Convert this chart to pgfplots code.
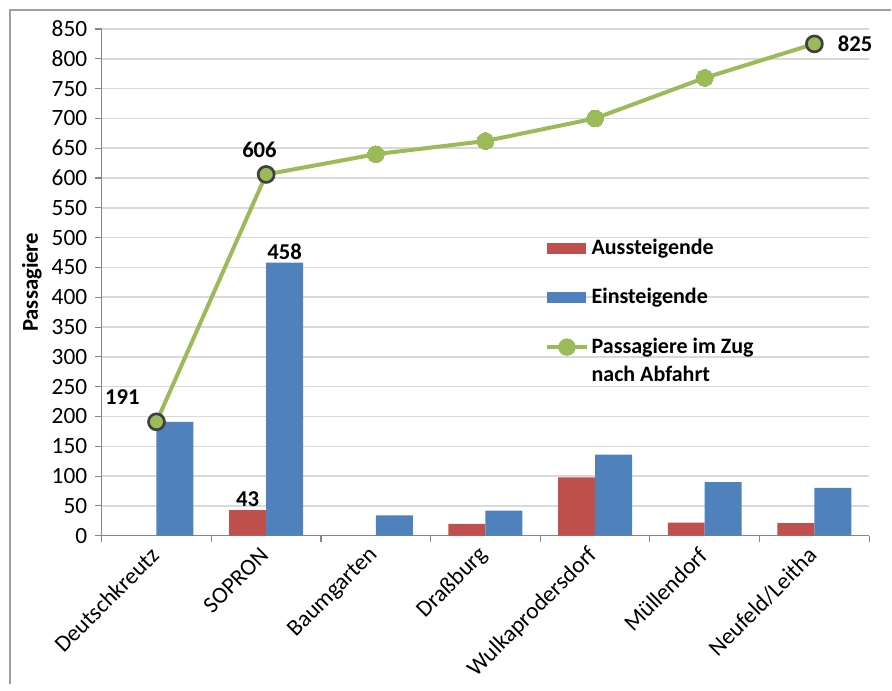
\documentclass[border=0pt]{standalone}
\usepackage{pgfplots}
\pgfplotsset{compat=1.18}
\usepackage{fontspec}
\setmainfont{Carlito}
\definecolor{cRed}{HTML}{C0504D}
\definecolor{cBlue}{HTML}{4F81BD}
\definecolor{cGreen}{HTML}{9BBB59}
\definecolor{cGrid}{HTML}{D9D9D9}
\definecolor{cAxis}{HTML}{868686}
\definecolor{cDark}{HTML}{404040}
\begin{document}
\begin{tikzpicture}
\fontsize{17}{20}\selectfont
\path (0,0) rectangle (669pt,513pt);
\draw[cAxis!80,line width=0.8pt] (7.5pt,0) -- (7.5pt,505.5pt) -- (669pt,505.5pt);
\begin{axis}[
  at={(76.3pt,111pt)}, anchor=south west,
  scale only axis, width=576pt, height=380.25pt,
  xmin=-0.5, xmax=6.5, ymin=0, ymax=850,
  ytick={0,50,...,850},
  xtick={0,...,6},
  xticklabels={Deutschkreutz,SOPRON,Baumgarten,Draßburg,Wulkaprodersdorf,Müllendorf,Neufeld/Leitha},
  minor xtick={-0.5,0.5,...,6.5},
  major x tick style={draw=none},
  minor x tick style={cAxis, line width=0.8pt},
  y tick style={cAxis, line width=0.8pt},
  tick align=outside, major tick length=5pt, minor tick length=5pt,
  axis x line*=bottom, axis y line*=left,
  axis line style={cAxis, line width=0.8pt, -},
  ymajorgrids, grid style={cGrid, line width=1.1pt},
  /pgf/number format/assume math mode=true,
  ticklabel style={font=\fontsize{17.5}{20}\selectfont},
  xticklabel style={rotate=45, anchor=east, yshift=-4pt},
  ylabel={\bfseries Passagiere},
  ylabel style={font=\fontsize{17}{20}\selectfont, yshift=-4pt},
  legend style={at={(0.572,0.597)}, anchor=north west, draw=none, fill=none,
    row sep=19pt, font=\fontsize{16.5}{21}\selectfont\bfseries,
    cells={anchor=west, align=left}},
  clip=false,
]
\addplot[ybar, bar width=27.75pt, bar shift=-13.875pt, fill=cRed, draw=none,
  legend image code/.code={\fill[cRed] (0pt,-4pt) rectangle (29pt,4pt);},
  point meta=explicit symbolic,
  nodes near coords, every node near coord/.append style={font=\fontsize{17}{20}\selectfont\bfseries, black, anchor=south, inner sep=2pt, xshift=-13.875pt}]
  coordinates {(1,43) [43] (3,20) [] (4,98) [] (5,22) [] (6,21) []};
\addlegendentry{Aussteigende}
\addplot[ybar, bar width=27.75pt, bar shift=13.875pt, fill=cBlue, draw=none,
  legend image code/.code={\fill[cBlue] (0pt,-4pt) rectangle (29pt,4pt);},
  point meta=explicit symbolic,
  nodes near coords, every node near coord/.append style={font=\fontsize{17}{20}\selectfont\bfseries, black, anchor=south, inner sep=2pt, xshift=13.875pt}]
  coordinates {(0,191) [] (1,458) [458] (2,34) [] (3,42) [] (4,136) [] (5,90) [] (6,80) []};
\addlegendentry{Einsteigende}
\addplot[sharp plot, cGreen, line width=3pt, mark=*, mark size=6.3pt,
  mark options={fill=cGreen, draw=cGreen, line width=0pt},
  legend image code/.code={\draw[cGreen, line width=3pt] (0pt,10.5pt) -- (30pt,10.5pt);
    \fill[cGreen] (15pt,10.5pt) circle (5pt);}]
  coordinates {(0,191) (1,606) (2,640) (3,662) (4,700) (5,768) (6,825)};
\addlegendentry{Passagiere im Zug\\nach Abfahrt}
\addplot[only marks, forget plot, mark=*, mark size=6pt,
  mark options={fill=cGreen, draw=cDark, line width=2pt},
  point meta=explicit symbolic, nodes near coords,
  every node near coord/.append style={font=\fontsize{17}{20}\selectfont\bfseries, black, anchor=base east, xshift=-6pt, yshift=13pt}]
  coordinates {(0,191) [191]};
\addplot[only marks, forget plot, mark=*, mark size=6pt,
  mark options={fill=cGreen, draw=cDark, line width=2pt},
  point meta=explicit symbolic, nodes near coords,
  every node near coord/.append style={font=\fontsize{17}{20}\selectfont\bfseries, black, anchor=base, xshift=-5pt, yshift=13pt}]
  coordinates {(1,606) [606]};
\addplot[only marks, forget plot, mark=*, mark size=6pt,
  mark options={fill=cGreen, draw=cDark, line width=2pt},
  point meta=explicit symbolic, nodes near coords,
  every node near coord/.append style={font=\fontsize{17}{20}\selectfont\bfseries, black, anchor=west, xshift=11pt, yshift=0pt}]
  coordinates {(6,825) [825]};
\end{axis}
\end{tikzpicture}
\end{document}
